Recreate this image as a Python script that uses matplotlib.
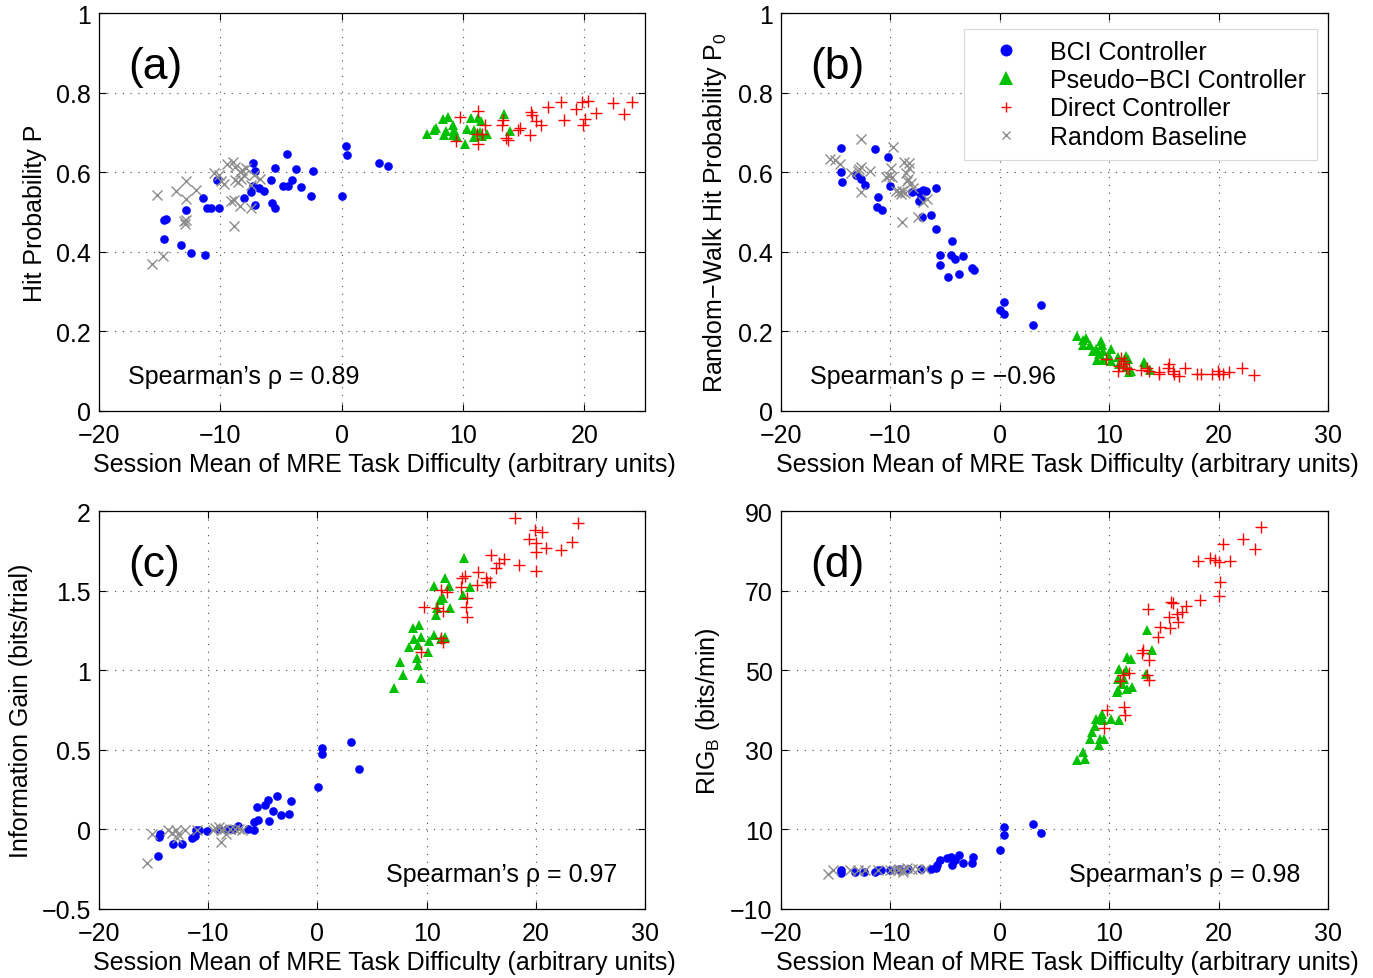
"""Four-panel scatter: BCI performance metrics vs. session mean task difficulty."""

import matplotlib
matplotlib.use("Agg")
import matplotlib.pyplot as plt
from matplotlib.lines import Line2D
from matplotlib.ticker import FuncFormatter

plt.rcParams["font.family"] = ["Liberation Sans", "DejaVu Sans"]
plt.rcParams["mathtext.fontset"] = "custom"
plt.rcParams["mathtext.rm"] = "Liberation Sans"
plt.rcParams["mathtext.it"] = "Liberation Sans:italic"

GROUPS = ["BCI Controller", "Pseudo\u2212BCI Controller", "Direct Controller", "Random Baseline"]

# ---- panel (a): hit probability ----
A_BCI_X = [-14.63, -14.48, -14.66, -13.24, -12.45, -11.27, -12.80, -11.45, -11.12, -10.77, -10.09, -10.27,
           -8.05, -7.49, -7.29, -7.17, -7.32, -6.78, -7.11, -6.37, -5.78, -5.49, -5.81, -5.52, -4.81, -4.42,
           -4.48, -4.13, -3.75, -3.36, -2.54, -2.39, 0.03, 0.35, 0.41, 3.07, 3.83]
A_BCI_Y = [0.479, 0.482, 0.432, 0.418, 0.397, 0.393, 0.506, 0.536, 0.510, 0.510, 0.510, 0.580,
           0.535, 0.549, 0.624, 0.603, 0.565, 0.561, 0.517, 0.552, 0.522, 0.510, 0.581, 0.610, 0.565, 0.566,
           0.645, 0.580, 0.609, 0.562, 0.540, 0.603, 0.540, 0.666, 0.642, 0.623, 0.615]
A_PSEUDO_X = [7.05, 7.58, 7.79, 8.32, 8.79, 8.47, 8.61, 9.20, 9.26, 9.32, 9.14, 9.50, 10.15, 10.29, 10.68,
              10.91, 11.27, 11.50, 11.42, 11.56, 10.91, 12.01, 13.42, 13.86]
A_PSEUDO_Y = [0.696, 0.707, 0.712, 0.733, 0.738, 0.693, 0.703, 0.718, 0.707, 0.697, 0.693, 0.689, 0.671,
              0.708, 0.735, 0.707, 0.735, 0.728, 0.702, 0.692, 0.689, 0.695, 0.746, 0.703]
A_DIRECT_X = [9.79, 9.44, 11.27, 11.27, 11.12, 11.80, 11.56, 13.19, 13.33, 13.57, 13.69, 14.66, 14.51, 15.63,
              15.69, 15.55, 16.05, 16.43, 17.02, 18.11, 18.35, 19.29, 19.82, 20.27, 20.06, 19.91, 21.00,
              22.33, 23.30, 23.89]
A_DIRECT_Y = [0.738, 0.679, 0.754, 0.671, 0.697, 0.718, 0.697, 0.718, 0.731, 0.685, 0.681, 0.712, 0.706,
              0.752, 0.744, 0.693, 0.728, 0.718, 0.764, 0.777, 0.731, 0.759, 0.777, 0.780, 0.733, 0.718,
              0.748, 0.773, 0.746, 0.777]
A_RANDOM_X = [-15.63, -14.72, -15.19, -13.69, -12.80, -12.80, -12.01, -12.98, -12.86, -12.92, -10.50, -10.12,
              -9.73, -9.91, -9.44, -8.97, -8.79, -8.41, -8.20, -8.55, -8.79, -8.29, -7.91, -8.05, -7.23,
              -7.46, -6.73, -9.09, -8.88, -8.38, -7.46, -8.88]
A_RANDOM_Y = [0.369, 0.390, 0.542, 0.553, 0.579, 0.532, 0.555, 0.477, 0.479, 0.469, 0.598, 0.593,
              0.571, 0.578, 0.620, 0.625, 0.613, 0.601, 0.605, 0.576, 0.580, 0.584, 0.611, 0.593, 0.593,
              0.567, 0.584, 0.527, 0.529, 0.516, 0.510, 0.464]

# ---- panel (b): random-walk hit probability ----
B_BCI_X = [-14.53, -11.40, -10.18, -14.50, -14.38, -13.10, -12.71, -12.31, -11.09, -11.19, -10.73, -10.00,
           -7.99, -7.39, -7.02, -6.75, -7.39, -7.23, -7.08, -6.32, -5.81, -5.81, -4.35, -5.47, -4.47, -4.10,
           -3.34, -5.44, -4.77, -3.74, -2.58, -2.40, 0.00, 0.40, 0.40, 3.07, 3.80]
B_BCI_Y = [0.660, 0.659, 0.638, 0.600, 0.575, 0.594, 0.582, 0.569, 0.537, 0.512, 0.505, 0.565,
           0.550, 0.550, 0.555, 0.553, 0.528, 0.534, 0.488, 0.493, 0.560, 0.458, 0.427, 0.393, 0.392, 0.382,
           0.389, 0.368, 0.337, 0.344, 0.360, 0.355, 0.255, 0.274, 0.243, 0.217, 0.267]
B_PSEUDO_X = [7.10, 7.62, 7.87, 7.56, 8.23, 9.24, 9.33, 8.48, 8.78, 9.09, 9.39, 8.93, 9.39, 10.15, 9.94,
              10.15, 10.76, 10.91, 11.52, 11.68, 11.52, 11.98, 11.83, 13.20, 13.29, 13.72]
B_PSEUDO_Y = [0.188, 0.179, 0.183, 0.167, 0.167, 0.177, 0.167, 0.150, 0.155, 0.142, 0.150, 0.127, 0.127,
              0.155, 0.138, 0.126, 0.136, 0.117, 0.138, 0.130, 0.111, 0.101, 0.097, 0.123, 0.117, 0.102]
B_DIRECT_X = [9.70, 11.07, 11.37, 10.91, 11.22, 11.52, 11.83, 10.85, 12.90, 13.41, 13.60, 14.57, 14.57,
              15.43, 15.34, 15.79, 15.95, 16.40, 16.95, 17.99, 18.38, 19.39, 19.91, 20.00, 20.37, 20.98,
              22.13, 23.26]
B_DIRECT_Y = [0.130, 0.134, 0.126, 0.113, 0.117, 0.107, 0.105, 0.101, 0.102, 0.109, 0.101, 0.099, 0.093,
              0.117, 0.107, 0.101, 0.093, 0.088, 0.107, 0.093, 0.094, 0.094, 0.101, 0.093, 0.094, 0.097,
              0.109, 0.091]
B_RANDOM_X = [-15.50, -15.08, -14.59, -12.71, -12.86, -12.71, -12.95, -11.91, -13.62, -12.71, -9.76, -9.91,
              -10.12, -10.36, -9.82, -8.72, -8.30, -8.30, -8.60, -8.39, -8.15, -8.45, -9.51, -9.21, -8.91,
              -8.69, -9.06, -7.90, -6.63, -7.02, -8.91, -7.48]
B_RANDOM_Y = [0.633, 0.631, 0.621, 0.684, 0.608, 0.612, 0.604, 0.604, 0.598, 0.549, 0.663, 0.611,
              0.590, 0.588, 0.588, 0.626, 0.623, 0.610, 0.598, 0.582, 0.574, 0.578, 0.553, 0.549, 0.553,
              0.547, 0.545, 0.561, 0.532, 0.524, 0.476, 0.488]

# ---- panel (c): information gain ----
C_BCI_X = [-14.59, -14.52, -14.43, -13.21, -12.39, -11.48, -11.25, -11.08, -10.82, -10.07, -9.00, -8.30,
           -7.80, -7.28, -6.33, -5.84, -5.84, -5.44, -5.51, -4.82, -4.49, -4.07, -4.39, -3.74, -3.31, -2.59,
           -2.46, 0.03, 0.39, 0.43, 3.11, 3.84]
C_BCI_Y = [-0.164, -0.048, -0.027, -0.094, -0.094, -0.052, -0.044, -0.006, -0.002, -0.013, 0.000, 0.002,
           0.005, 0.019, 0.004, -0.006, 0.046, 0.061, 0.140, 0.155, 0.187, 0.113, 0.052, 0.212, 0.088, 0.094,
           0.180, 0.264, 0.512, 0.476, 0.549, 0.382]
C_PSEUDO_X = [7.05, 7.54, 7.87, 8.36, 8.79, 9.34, 8.85, 9.18, 9.11, 9.25, 9.51, 9.51, 10.23, 10.16, 10.66,
              10.66, 10.82, 10.98, 11.21, 11.48, 11.64, 12.07, 12.13, 13.44, 13.34, 13.93, 11.31, 11.64]
C_PSEUDO_Y = [0.889, 1.052, 0.969, 1.147, 1.266, 1.283, 1.199, 1.157, 1.078, 1.031, 0.952, 1.210, 1.182,
              1.115, 1.224, 1.530, 1.346, 1.392, 1.440, 1.451, 1.577, 1.530, 1.392, 1.702, 1.472, 1.524,
              1.199, 1.210]
C_DIRECT_X = [9.77, 9.51, 10.98, 11.31, 11.48, 11.48, 11.31, 11.90, 13.11, 13.28, 13.51, 13.67, 13.61, 13.67,
              14.69, 14.59, 15.41, 15.57, 15.80, 15.90, 16.33, 16.66, 17.05, 18.10, 18.43, 19.34, 19.90,
              20.00, 20.00, 20.00, 20.59, 20.92, 22.30, 23.34, 23.84]
C_DIRECT_Y = [1.398, 1.115, 1.392, 1.203, 1.178, 1.371, 1.503, 1.493, 1.524, 1.577, 1.593, 1.451, 1.398,
              1.335, 1.618, 1.535, 1.577, 1.551, 1.551, 1.723, 1.639, 1.671, 1.698, 1.954, 1.660, 1.824,
              1.881, 1.797, 1.744, 1.623, 1.870, 1.769, 1.755, 1.807, 1.922]
C_RANDOM_X = [-15.64, -15.15, -13.70, -12.95, -12.85, -12.79, -12.13, -10.98, -9.57, -9.34, -9.02, -8.85,
              -8.59, -8.85, -8.36, -8.03, -7.54, -7.21, -6.89, -13.28]
C_RANDOM_Y = [-0.212, -0.027, -0.006, -0.006, -0.055, -0.027, -0.006, -0.002, -0.006, 0.008, 0.015, -0.006,
              0.004, -0.080, -0.027, 0.000, 0.000, 0.004, -0.002, -0.023]

# ---- panel (d): RIG_B ----
D_BCI_X = [-14.50, -14.50, -13.23, -12.43, -11.43, -11.17, -10.83, -10.07, -9.20, -8.40, -7.23, -6.30,
           -5.83, -5.77, -5.50, -4.83, -4.50, -4.33, -4.10, -3.77, -3.33, -2.50, -2.43, 0.00, 0.40, 0.40,
           3.07, 3.80]
D_BCI_Y = [-0.3, -0.9, -0.6, -0.7, -0.6, -0.1, -0.1, -0.1, 0.0, 0.1, 0.1, 0.1,
           0.3, 1.1, 2.2, 2.8, 3.0, 1.0, 2.2, 3.6, 1.5, 1.5, 3.0, 4.9, 10.6, 8.7,
           11.4, 9.1]
D_PSEUDO_X = [7.10, 7.57, 7.83, 8.27, 8.40, 8.67, 8.83, 9.17, 9.33, 9.43, 9.10, 9.17, 9.50, 10.17, 10.90,
              10.67, 10.83, 10.90, 10.77, 11.17, 11.33, 11.50, 11.67, 12.00, 12.10, 11.67, 13.33, 13.50, 13.90]
D_PSEUDO_Y = [27.5, 29.5, 27.8, 32.6, 34.5, 36.0, 37.7, 37.8, 39.1, 37.4, 31.1, 32.8, 32.8, 37.8, 37.4,
              44.5, 45.0, 50.4, 47.9, 46.6, 47.9, 50.0, 53.3, 52.9, 45.8, 45.4, 49.1, 60.0, 55.0]
D_DIRECT_X = [9.83, 9.50, 11.00, 11.33, 11.43, 11.77, 11.23, 13.10, 13.00, 13.57, 13.67, 13.67, 13.50, 14.50,
              14.67, 15.60, 15.50, 15.67, 15.83, 16.17, 16.33, 16.67, 17.00, 18.33, 18.10, 19.23, 20.00,
              20.10, 20.00, 20.43, 21.00, 22.23, 23.33, 23.83, 19.67]
D_DIRECT_Y = [39.9, 35.5, 47.2, 40.8, 38.7, 49.4, 48.7, 55.0, 54.2, 65.5, 52.5, 47.5, 48.7, 58.4,
              60.9, 60.5, 63.4, 67.2, 66.8, 64.2, 62.0, 64.7, 66.2, 67.6, 77.4, 78.2, 68.7,
              72.2, 77.2, 81.8, 77.4, 82.9, 80.4, 86.0, 77.7]
D_RANDOM_X = [-15.67, -15.23, -13.67, -13.00, -12.33, -11.17, -10.00, -9.67, -9.17, -8.83, -8.50, -8.00,
              -7.50, -6.83, -8.83, -9.33]
D_RANDOM_Y = [-1.2, -0.3, -0.1, -0.3, -0.3, -0.1, -0.1, -0.1, 0.1, -0.1, 0.3, 0.1,
              0.1, 0.1, -0.6, -0.3]

# axis settings per panel
X_LIMS = [(-20, 25), (-20, 30), (-20, 30), (-20, 30)]
X_TICKS = [[-20, -10, 0, 10, 20], [-20, -10, 0, 10, 20, 30], [-20, -10, 0, 10, 20, 30], [-20, -10, 0, 10, 20, 30]]
Y_TICKS = [[0, 0.2, 0.4, 0.6, 0.8, 1], [0, 0.2, 0.4, 0.6, 0.8, 1],
           [-0.5, 0, 0.5, 1, 1.5, 2], [-10, 10, 30, 50, 70, 90]]
Y_LABELS = ["Hit Probability P", "Random\u2212Walk Hit Probability P$_0$",
            "Information Gain (bits/trial)", "RIG$_\\mathrm{B}$ (bits/min)"]
X_LABEL = "Session Mean of MRE Task Difficulty (arbitrary units)"
PANEL_TAGS = ["(a)", "(b)", "(c)", "(d)"]
RHO_TEXT = ["Spearman\u2019s \u03c1 = 0.89", "Spearman\u2019s \u03c1 = \u22120.96",
            "Spearman\u2019s \u03c1 = 0.97", "Spearman\u2019s \u03c1 = 0.98"]

PANEL_DATA = [
    [(A_BCI_X, A_BCI_Y), (A_PSEUDO_X, A_PSEUDO_Y), (A_DIRECT_X, A_DIRECT_Y), (A_RANDOM_X, A_RANDOM_Y)],
    [(B_BCI_X, B_BCI_Y), (B_PSEUDO_X, B_PSEUDO_Y), (B_DIRECT_X, B_DIRECT_Y), (B_RANDOM_X, B_RANDOM_Y)],
    [(C_BCI_X, C_BCI_Y), (C_PSEUDO_X, C_PSEUDO_Y), (C_DIRECT_X, C_DIRECT_Y), (C_RANDOM_X, C_RANDOM_Y)],
    [(D_BCI_X, D_BCI_Y), (D_PSEUDO_X, D_PSEUDO_Y), (D_DIRECT_X, D_DIRECT_Y), (D_RANDOM_X, D_RANDOM_Y)],
]

# marker style per group (MATLAB-like)
STYLES = [
    dict(marker="o", color="#0000ff", markersize=6.2, markeredgewidth=0),
    dict(marker="^", color="#00c000", markersize=7, markeredgewidth=0),
    dict(marker="+", color="#ff0000", markersize=9, markeredgewidth=1.0),
    dict(marker="x", color="#8c8c8c", markersize=6.5, markeredgewidth=1.0),
]
# legend symbols are drawn at their own size, as in the original figure
LEGEND_MS = [8.6, 9.5, 7, 5.5]

FS = 18
W, H = 1373, 979
# axes boxes in pixels: left, top, right, bottom
BOXES = [(99, 14, 645, 412), (781, 14, 1328, 412), (99, 512, 645, 910), (781, 512, 1328, 910)]


def minus_fmt(v, _pos):
    return f"{v:g}".replace("-", "\u2212")


fig = plt.figure(figsize=(W / 100, H / 100), dpi=100)

for i, (l, t, r, b) in enumerate(BOXES):
    ax = fig.add_axes([l / W, (H - b) / H, (r - l) / W, (b - t) / H])
    for (xs, ys), st, name in zip(PANEL_DATA[i], STYLES, GROUPS):
        ax.plot(xs, ys, linestyle="none", label=name, **st)

    ax.set_xlim(*X_LIMS[i])
    ax.set_ylim(Y_TICKS[i][0], Y_TICKS[i][-1])
    ax.set_xticks(X_TICKS[i])
    ax.set_yticks(Y_TICKS[i])
    ax.xaxis.set_major_formatter(FuncFormatter(minus_fmt))
    ax.yaxis.set_major_formatter(FuncFormatter(minus_fmt))
    ax.tick_params(direction="in", top=True, right=True, length=5, width=0.8,
                   labelsize=FS)
    ax.tick_params(axis="x", pad=9)
    ax.tick_params(axis="y", pad=6)
    ax.grid(True, linestyle=(0, (1, 6)), color="0.3", linewidth=0.8)
    for sp in ax.spines.values():
        sp.set_linewidth(0.9)

    ax.set_xlabel(X_LABEL, fontsize=FS, labelpad=3)
    ax.xaxis.label.set_x(0.523)
    ax.set_ylabel(Y_LABELS[i], fontsize=FS, labelpad=6)

    ax.text(0.053, 0.865, PANEL_TAGS[i], transform=ax.transAxes, fontsize=32,
            ha="left", va="center")
    if i < 2:
        ax.text(0.053, 0.088, RHO_TEXT[i], transform=ax.transAxes, fontsize=FS,
                ha="left", va="center")
    else:
        ax.text(0.95, 0.088, RHO_TEXT[i], transform=ax.transAxes, fontsize=FS,
                ha="right", va="center")

    if i == 1:
        handles = [Line2D([], [], linestyle="none", **dict(st, markersize=ms))
                   for st, ms in zip(STYLES, LEGEND_MS)]
        leg = ax.legend(handles, GROUPS, loc="upper right", bbox_to_anchor=(0.980, 0.960),
                        fontsize=FS, frameon=True, fancybox=False, framealpha=1,
                        edgecolor="#d8d8d8", handlelength=2.48, handletextpad=0.52,
                        borderpad=0.44, labelspacing=0.17, borderaxespad=0)
        leg.get_frame().set_linewidth(0.8)

fig.savefig("out.png", dpi=100)
